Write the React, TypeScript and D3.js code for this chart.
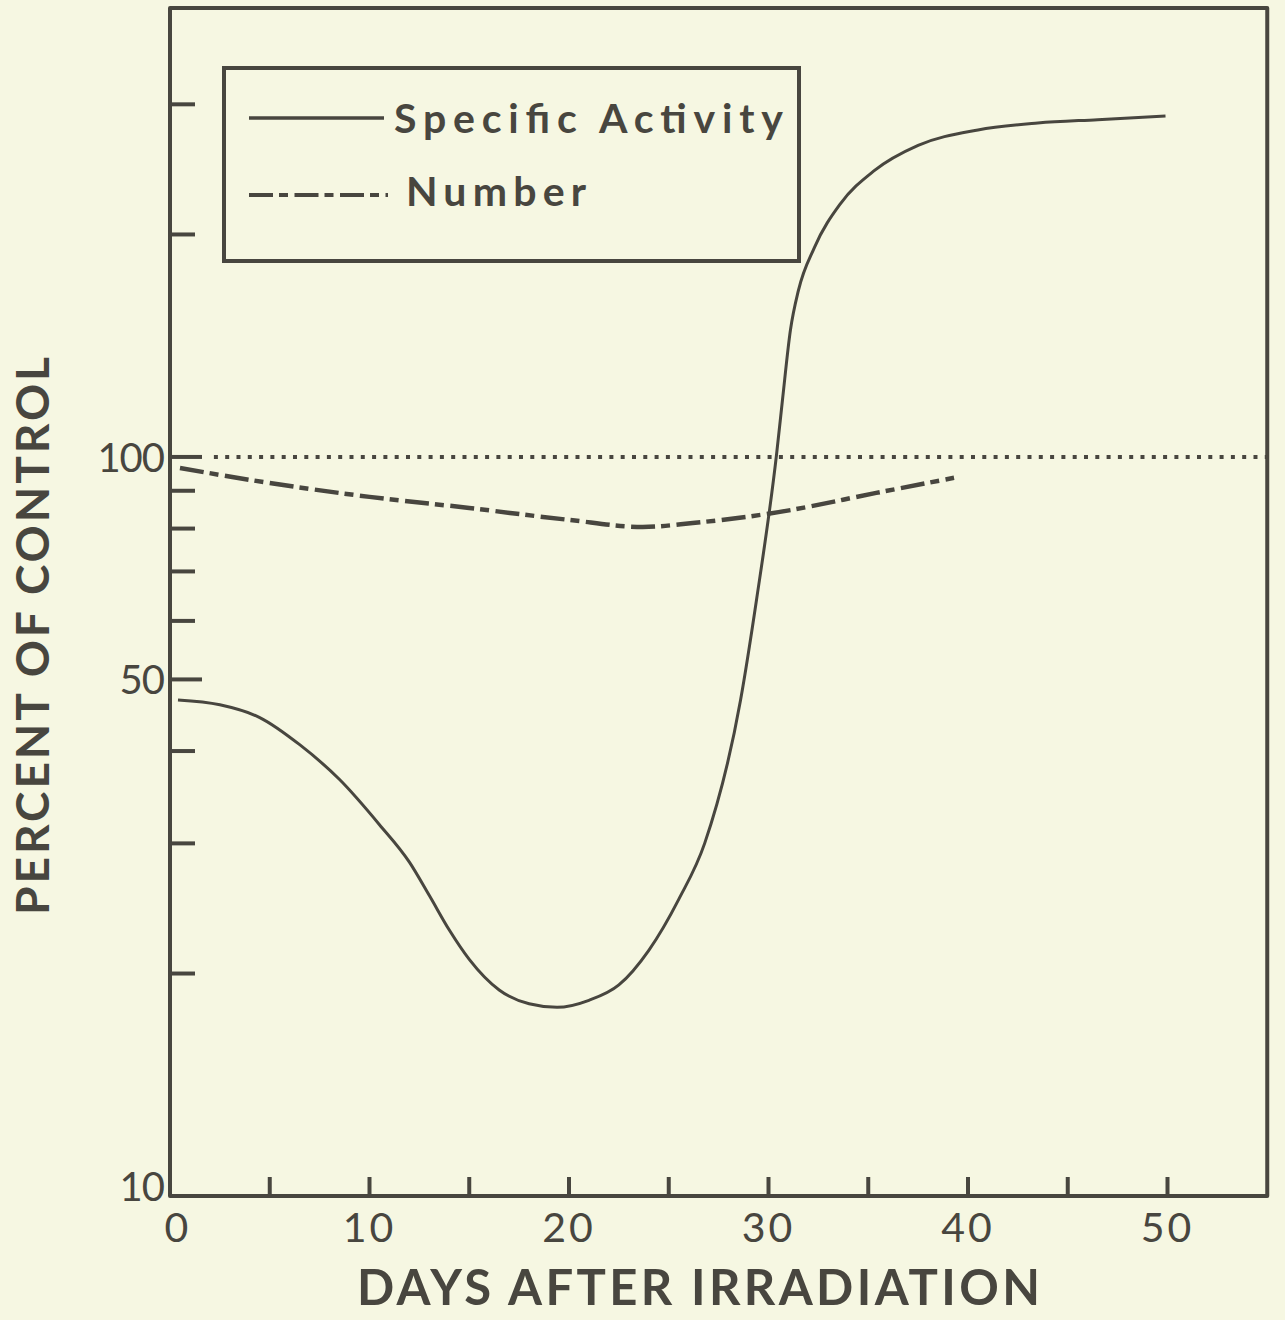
import React from 'react';
import * as d3 from 'd3';

// ---- data ----
const specificDays = [0.4, 2.5, 4.5, 6.5, 8.5, 10.5, 12, 13, 14, 15, 16.5, 18, 19.4, 21, 22.5, 24, 25.5, 26.8, 28.6, 29.4, 30.4, 30.7, 31.1, 31.5, 32.3, 33.6, 35.3, 37.5, 40.5, 43.5, 46.5, 49.9];
const specificValues = [46.9, 46.2, 44.4, 40.8, 36.6, 31.8, 28.3, 25.5, 22.9, 20.9, 19.0, 18.2, 18.0, 18.4, 19.3, 21.5, 25.2, 30.0, 46.9, 64.1, 100.6, 119.4, 148.5, 168, 192, 220, 244, 264, 277, 283, 286, 289.3];

const numberDays = [0.5, 5, 10, 15, 20, 23.7, 26.2, 30.5, 35.4, 39.3];
const numberValues = [96.6, 92.2, 88.3, 85.3, 82.2, 80.4, 81.4, 84.2, 89.4, 93.7];

const controlDays = [2.2, 55];
const controlValue = 100;

const xTickDays = [5, 10, 15, 20, 25, 30, 35, 40, 45, 50];
const xLabelDays = [0, 10, 20, 30, 40, 50];
const yLongTicks = [50, 100];
const yShortTicks = [20, 30, 40, 60, 70, 80, 90, 200, 300];
const yLabelValues = [10, 50, 100];

const legendLabels = ['Specific Activity', 'Number'];

const BG = '#f6f7e2';
const INK = '#48463f';
const FONT = 'Lato, "Open Sans", sans-serif';

export default function App() {
  const x = d3.scaleLinear().domain([0, 55]).range([170, 1267.25]);
  const y = d3.scaleLog().domain([10, 405]).range([1196, 8]);

  const line = d3
    .line<[number, number]>()
    .x((d) => x(d[0]))
    .y((d) => y(d[1]))
    .curve(d3.curveMonotoneX);

  const specData: [number, number][] = specificDays.map((d, i) => [d, specificValues[i]]);
  const numData: [number, number][] = numberDays.map((d, i) => [d, numberValues[i]]);

  const x0 = x(0);
  const x1 = x(55);
  const yTop = y(405);
  const yBot = y(10);

  return (
    <svg
      width={1285}
      height={1320}
      style={{ position: 'absolute', left: 0, top: 0, display: 'block' }}
    >
      <rect x={0} y={0} width={1285} height={1320} fill={BG} />

      {/* frame */}
      <path
        d={`M${x0},${yTop} L${x1},${yTop} L${x1},${yBot} L${x0},${yBot} Z`}
        fill="none"
        stroke={INK}
        strokeWidth={4}
        strokeLinejoin="round"
      />

      {/* y ticks */}
      {yLongTicks.map((v) => (
        <line key={'yl' + v} x1={x0} x2={x0 + 32} y1={y(v)} y2={y(v)} stroke={INK} strokeWidth={4} />
      ))}
      {yShortTicks.map((v) => (
        <line key={'ys' + v} x1={x0} x2={x0 + 25} y1={y(v)} y2={y(v)} stroke={INK} strokeWidth={4} />
      ))}
      {yLabelValues.map((v) => (
        <text
          key={'ylab' + v}
          x={x0 - 6}
          y={y(v) + (v === 10 ? -10 : 0)}
          textAnchor="end"
          dominantBaseline="central"
          fontFamily={FONT}
          fontSize={40}
          fill={INK}
          letterSpacing={-1}
        >
          {v}
        </text>
      ))}

      {/* x ticks */}
      {xTickDays.map((d) => (
        <line key={'xt' + d} x1={x(d)} x2={x(d)} y1={yBot} y2={yBot - 19} stroke={INK} strokeWidth={4} />
      ))}
      {xLabelDays.map((d) => (
        <text
          key={'xl' + d}
          x={x(d) + (d === 0 ? 8 : 0)}
          y={1242}
          textAnchor="middle"
          fontFamily={FONT}
          fontSize={41}
          fill={INK}
          letterSpacing={3}
        >
          {d}
        </text>
      ))}

      {/* control line */}
      <line
        x1={x(controlDays[0])}
        x2={x(controlDays[1])}
        y1={y(controlValue)}
        y2={y(controlValue)}
        stroke={INK}
        strokeWidth={4}
        strokeDasharray="4 7.3"
      />

      {/* number curve */}
      <path
        d={line(numData) || ''}
        fill="none"
        stroke={INK}
        strokeWidth={4.5}
        strokeDasharray="24 6 9 6.5"
      />

      {/* specific activity curve */}
      <path d={line(specData) || ''} fill="none" stroke={INK} strokeWidth={3} />

      {/* legend */}
      <rect x={224} y={68} width={575} height={193} fill="none" stroke={INK} strokeWidth={4} />
      <line x1={249} x2={384} y1={118} y2={118} stroke={INK} strokeWidth={3.5} />
      <line x1={249} x2={388} y1={195} y2={195} stroke={INK} strokeWidth={4} strokeDasharray="24 6 9 6.5" />
      <text x={394} y={133} fontFamily={FONT} fontWeight={700} fontSize={41} fill={INK} textLength={389} lengthAdjust="spacing">
        {legendLabels[0]}
      </text>
      <text x={406} y={206} fontFamily={FONT} fontWeight={700} fontSize={41} fill={INK} textLength={180} lengthAdjust="spacing">
        {legendLabels[1]}
      </text>

      {/* axis titles */}
      <text
        x={357}
        y={1305}
        fontFamily={FONT}
        fontWeight={700}
        fontSize={49}
        fill={INK}
        textLength={683}
        lengthAdjust="spacing"
      >
        DAYS AFTER IRRADIATION
      </text>
      <text
        transform="translate(49,915) rotate(-90)"
        x={0}
        y={0}
        fontFamily={FONT}
        fontWeight={700}
        fontSize={46}
        fill={INK}
        textLength={558}
        lengthAdjust="spacing"
      >
        PERCENT OF CONTROL
      </text>
    </svg>
  );
}
